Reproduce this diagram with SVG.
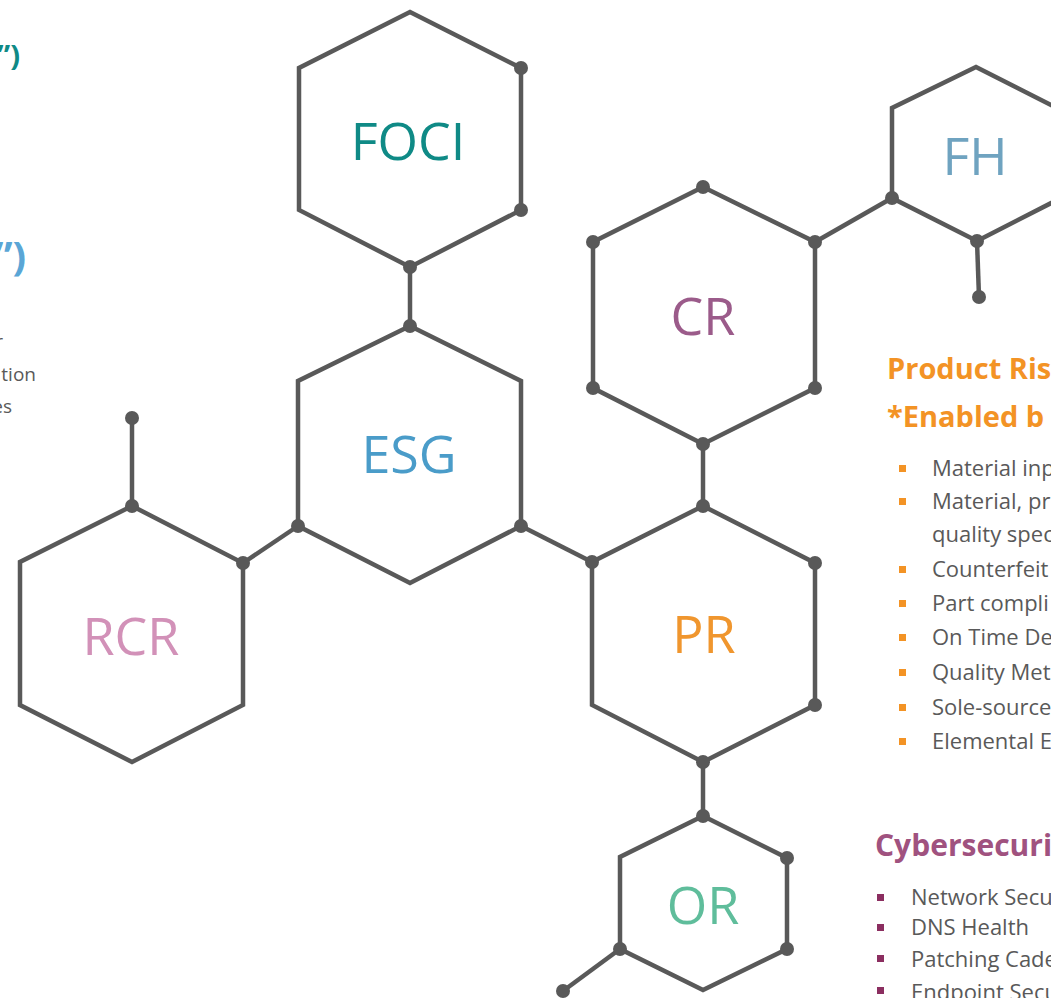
<svg xmlns="http://www.w3.org/2000/svg" width="1051" height="998" viewBox="0 0 1051 998">
<style>
.hex{fill:#ffffff;stroke:#595959;stroke-width:4.5;stroke-linejoin:miter}
.ln{stroke:#595959;stroke-width:4.5;fill:none}
.dot{fill:#595959}
.lbl{font-family:"Open Sans","Liberation Sans",sans-serif;font-size:52px;text-anchor:middle}
.hd{font-family:"Open Sans","Liberation Sans",sans-serif;font-weight:bold}
.li{font-family:"Open Sans","Liberation Sans",sans-serif;font-size:22px;fill:#595959}
.sm{font-family:"Open Sans","Liberation Sans",sans-serif;font-size:19px;fill:#595959;text-anchor:end}
</style>
<rect width="1051" height="998" fill="#ffffff"/>

<g id="left-text">
<text class="hd" x="20" y="66" font-size="29" fill="#0F8A86" text-anchor="end">”)</text>
<text class="hd" x="26" y="270" font-size="40" fill="#5AA6D6" text-anchor="end">”)</text>
<text class="sm" x="3" y="348">r</text>
<text class="sm" x="36" y="381">tion</text>
<text class="sm" x="12" y="413">es</text>
</g>

<g id="connectors">
<line class="ln" x1="410" y1="267" x2="410" y2="326"/>
<line class="ln" x1="243" y1="563" x2="298" y2="526"/>
<line class="ln" x1="132" y1="506" x2="132" y2="418"/>
<line class="ln" x1="521" y1="526" x2="592" y2="562"/>
<line class="ln" x1="703" y1="444" x2="703" y2="506"/>
<line class="ln" x1="815" y1="242" x2="892" y2="198"/>
<line class="ln" x1="977" y1="241" x2="979" y2="297"/>
<line class="ln" x1="703" y1="762" x2="703" y2="816"/>
<line class="ln" x1="620" y1="949" x2="563" y2="991"/>
</g>

<g id="node-FOCI">
<polygon class="hex" points="410,12 521,68 521,210 410,267 299,210 299,68"/>
<text class="lbl" x="408" y="160" fill="#0F8A86">FOCI</text>
</g>
<g id="node-ESG">
<polygon class="hex" points="410,326 521,381 521,526 410,583 298,526 298,381"/>
<text class="lbl" x="409" y="473" fill="#4A9CC9">ESG</text>
</g>
<g id="node-RCR">
<polygon class="hex" points="132,506 243,563 243,705 132,762 20,705 20,562"/>
<text class="lbl" x="131" y="655" fill="#D291B8">RCR</text>
</g>
<g id="node-CR">
<polygon class="hex" points="703,187 815,242 815,388 703,444 593,388 593,242"/>
<text class="lbl" x="703" y="335" fill="#9B5B8A">CR</text>
</g>
<g id="node-FH">
<polygon class="hex" points="976,67 1061,110 1061,198 977,241 892,198 892,108"/>
<text class="lbl" x="975" y="175" fill="#6FA3C0">FH</text>
</g>
<g id="node-PR">
<polygon class="hex" points="703,506 815,563 815,705 703,762 592,705 592,562"/>
<text class="lbl" x="704" y="653" fill="#F0962E">PR</text>
</g>
<g id="node-OR">
<polygon class="hex" points="703,816 787,858 787,949 703,990 620,949 620,857"/>
<text class="lbl" x="703" y="924" fill="#5FBD9B">OR</text>
</g>

<g id="dots">
<circle class="dot" cx="521" cy="68" r="7"/>
<circle class="dot" cx="521" cy="210" r="7"/>
<circle class="dot" cx="410" cy="267" r="7"/>
<circle class="dot" cx="410" cy="326" r="7"/>
<circle class="dot" cx="298" cy="526" r="7"/>
<circle class="dot" cx="521" cy="526" r="7"/>
<circle class="dot" cx="132" cy="506" r="7"/>
<circle class="dot" cx="243" cy="563" r="7"/>
<circle class="dot" cx="132" cy="418" r="7"/>
<circle class="dot" cx="703" cy="506" r="7"/>
<circle class="dot" cx="592" cy="562" r="7"/>
<circle class="dot" cx="815" cy="563" r="7"/>
<circle class="dot" cx="815" cy="705" r="7"/>
<circle class="dot" cx="703" cy="762" r="7"/>
<circle class="dot" cx="703" cy="187" r="7"/>
<circle class="dot" cx="593" cy="242" r="7"/>
<circle class="dot" cx="815" cy="242" r="7"/>
<circle class="dot" cx="593" cy="388" r="7"/>
<circle class="dot" cx="815" cy="388" r="7"/>
<circle class="dot" cx="703" cy="444" r="7"/>
<circle class="dot" cx="892" cy="198" r="7"/>
<circle class="dot" cx="977" cy="241" r="7"/>
<circle class="dot" cx="979" cy="297" r="7"/>
<circle class="dot" cx="703" cy="816" r="7"/>
<circle class="dot" cx="787" cy="858" r="7"/>
<circle class="dot" cx="787" cy="949" r="7"/>
<circle class="dot" cx="620" cy="949" r="7"/>
<circle class="dot" cx="563" cy="991" r="7"/>
</g>

<g id="product-risk">
<text class="hd" x="887" y="379" font-size="29" fill="#F39325">Product Ris</text>
<text class="hd" x="887" y="427" font-size="29" fill="#F39325">*Enabled b</text>
<g fill="#F39325">
<rect x="899" y="465" width="7" height="7"/>
<rect x="899" y="498" width="7" height="7"/>
<rect x="899" y="566" width="7" height="7"/>
<rect x="899" y="600" width="7" height="7"/>
<rect x="899" y="634" width="7" height="7"/>
<rect x="899" y="669" width="7" height="7"/>
<rect x="899" y="704" width="7" height="7"/>
<rect x="899" y="738" width="7" height="7"/>
</g>
<text class="li" x="932" y="476">Material inp</text>
<text class="li" x="932" y="509">Material, pr</text>
<text class="li" x="932" y="542">quality spec</text>
<text class="li" x="932" y="577">Counterfeit</text>
<text class="li" x="932" y="611">Part compli</text>
<text class="li" x="932" y="645">On Time De</text>
<text class="li" x="932" y="680">Quality Met</text>
<text class="li" x="932" y="715">Sole-source</text>
<text class="li" x="932" y="749">Elemental E</text>
</g>

<g id="cybersecurity">
<text class="hd" x="875" y="856" font-size="30" fill="#A0527F">Cybersecuri</text>
<g fill="#8B2E60">
<rect x="877" y="894" width="7" height="7"/>
<rect x="877" y="924" width="7" height="7"/>
<rect x="877" y="955" width="7" height="7"/>
<rect x="877" y="987" width="7" height="7"/>
</g>
<text class="li" x="911" y="905">Network Secu</text>
<text class="li" x="911" y="935">DNS Health</text>
<text class="li" x="911" y="967">Patching Cade</text>
<text class="li" x="911" y="1000">Endpoint Secu</text>
</g>
</svg>
